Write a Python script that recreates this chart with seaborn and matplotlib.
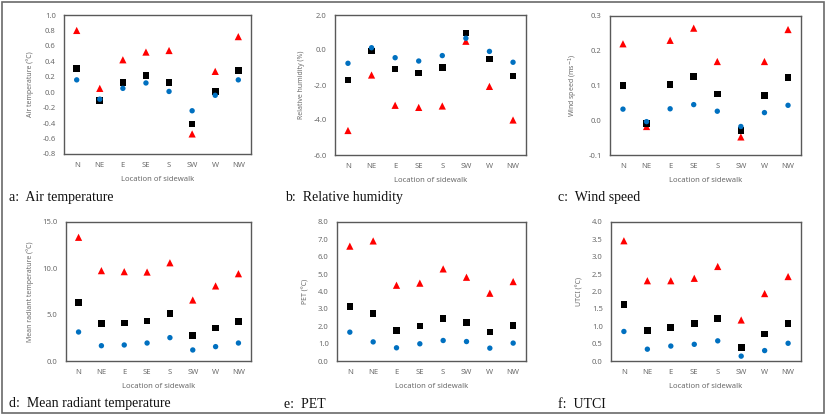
import matplotlib
matplotlib.use("Agg")
import matplotlib.pyplot as plt
import seaborn as sns
import pandas as pd
from matplotlib.patches import Rectangle

sns.set_theme(style="white")
plt.rcParams['font.family'] = ['Noto Sans', 'DejaVu Sans']

locations = ["N", "NE", "E", "SE", "S", "SW", "W", "NW"]

# a: Air temperature
air_tri = [0.80, 0.05, 0.42, 0.52, 0.54, -0.54, 0.27, 0.72]
air_sq = [0.31, -0.11, 0.13, 0.22, 0.13, -0.41, 0.01, 0.28]
air_ci = [0.16, -0.09, 0.05, 0.12, 0.01, -0.24, -0.04, 0.16]
# b: Relative humidity
rh_tri = [-4.6, -1.43, -3.16, -3.28, -3.2, 0.5, -2.08, -4.0]
rh_sq = [-1.71, -0.06, -1.09, -1.31, -0.99, 0.97, -0.51, -1.49]
rh_ci = [-0.76, 0.13, -0.44, -0.63, -0.32, 0.67, -0.08, -0.70]
# c: Wind speed
ws_tri = [0.220, -0.018, 0.230, 0.265, 0.169, -0.048, 0.169, 0.261]
ws_sq = [0.100, -0.010, 0.103, 0.126, 0.076, -0.030, 0.072, 0.123]
ws_ci = [0.032, -0.004, 0.033, 0.045, 0.026, -0.018, 0.022, 0.043]
# d: Mean radiant temperature
mrt_tri = [13.35, 9.75, 9.64, 9.60, 10.6, 6.58, 8.1, 9.42]
mrt_sq = [6.33, 4.03, 4.10, 4.32, 5.10, 2.73, 3.56, 4.24]
mrt_ci = [3.13, 1.65, 1.73, 1.94, 2.52, 1.19, 1.55, 1.94]
# e: PET
pet_tri = [6.61, 6.91, 4.36, 4.48, 5.30, 4.82, 3.90, 4.57]
pet_sq = [3.14, 2.74, 1.77, 2.02, 2.44, 2.23, 1.66, 2.06]
pet_ci = [1.66, 1.10, 0.76, 0.99, 1.18, 1.12, 0.74, 1.03]
# f: UTCI
utci_tri = [3.46, 2.31, 2.31, 2.38, 2.72, 1.18, 1.94, 2.43]
utci_sq = [1.63, 0.88, 0.96, 1.07, 1.23, 0.39, 0.78, 1.08]
utci_ci = [0.85, 0.34, 0.43, 0.48, 0.58, 0.14, 0.30, 0.51]

series_names = ["tri", "sq", "ci"]
palette = {"tri": "#ff0000", "sq": "#000000", "ci": "#0070c0"}
markers = {"tri": "^", "sq": "s", "ci": "o"}
msizes = {"tri": 27, "sq": 23, "ci": 15}

panels = [
    dict(data=(air_tri, air_sq, air_ci), ylim=(-0.8, 1.0), step=0.2,
         ylabel="Air temperature (\u00b0C)", caption="a:  Air temperature",
         box=(64, 251, 15, 154), cap=(9, 198)),
    dict(data=(rh_tri, rh_sq, rh_ci), ylim=(-6.0, 2.0), step=2.0,
         ylabel="Relative humidity (%)", caption="b:  Relative humidity",
         box=(335, 526, 15, 155), cap=(285, 198)),
    dict(data=(ws_tri, ws_sq, ws_ci), ylim=(-0.1, 0.3), step=0.1,
         ylabel="Wind speed (ms$^{-1}$)", caption="c:  Wind speed",
         box=(610, 801, 16, 155), cap=(558, 198)),
    dict(data=(mrt_tri, mrt_sq, mrt_ci), ylim=(0.0, 15.0), step=5.0,
         ylabel="Mean radiant temperature (\u00b0C)", caption="d:  Mean radiant temperature",
         box=(66, 251, 222, 361), cap=(9, 404)),
    dict(data=(pet_tri, pet_sq, pet_ci), ylim=(0.0, 8.0), step=1.0,
         ylabel="PET (\u00b0C)", caption="e:  PET",
         box=(337, 526, 222, 361), cap=(284, 404)),
    dict(data=(utci_tri, utci_sq, utci_ci), ylim=(0.0, 4.0), step=0.5,
         ylabel="UTCI (\u00b0C)", caption="f:  UTCI",
         box=(611, 801, 222, 361), cap=(558, 404)),
]

W, H = 827, 417
fig = plt.figure(figsize=(W / 100, H / 100), dpi=100)
fig.patch.set_facecolor("white")

# outer border
fig.add_artist(Rectangle((1.5 / W, 1 - 413 / H), 822 / W, 411.5 / H,
                         transform=fig.transFigure, fill=False,
                         edgecolor="#6a6a6a", lw=1.2))

tick_color = "#6b6b6b"
for p in panels:
    l, r, t, b = p["box"]
    ax = fig.add_axes([l / W, 1 - b / H, (r - l) / W, (b - t) / H])
    rows = []
    for name, vals in zip(series_names, p["data"]):
        for loc, v in zip(locations, vals):
            rows.append({"Location": loc, "value": v, "series": name})
    df = pd.DataFrame(rows)
    sns.scatterplot(data=df, x="Location", y="value", hue="series", style="series",
                    size="series", sizes=msizes,
                    palette=palette, markers=markers, linewidth=0,
                    legend=False, ax=ax, zorder=3)
    ax.set_xlim(-0.55, 7.55)
    lo, hi = p["ylim"]
    ax.set_ylim(lo, hi)
    n = int(round((hi - lo) / p["step"]))
    ticks = [lo + i * p["step"] for i in range(n + 1)]
    ax.set_yticks(ticks)
    ax.set_yticklabels([f"{v:.1f}" for v in ticks])
    ax.set_xticks(range(len(locations)))
    ax.set_xticklabels(locations)
    ax.tick_params(axis="both", length=0, labelsize=5.5, colors=tick_color, pad=6)
    ax.set_xlabel("Location of sidewalk", fontsize=5.5, color=tick_color, labelpad=5)
    ax.set_ylabel(p["ylabel"], fontsize=5, color=tick_color, labelpad=6)
    for s in ax.spines.values():
        s.set_edgecolor("#595959")
        s.set_linewidth(1.0)
    ax.grid(False)
    cx, cy = p["cap"]
    fig.text(cx / W, 1 - cy / H, p["caption"],
             fontsize=10, family="Liberation Serif", color="#111111",
             ha="left", va="center")

fig.savefig("out.png", dpi=100, facecolor="white")
